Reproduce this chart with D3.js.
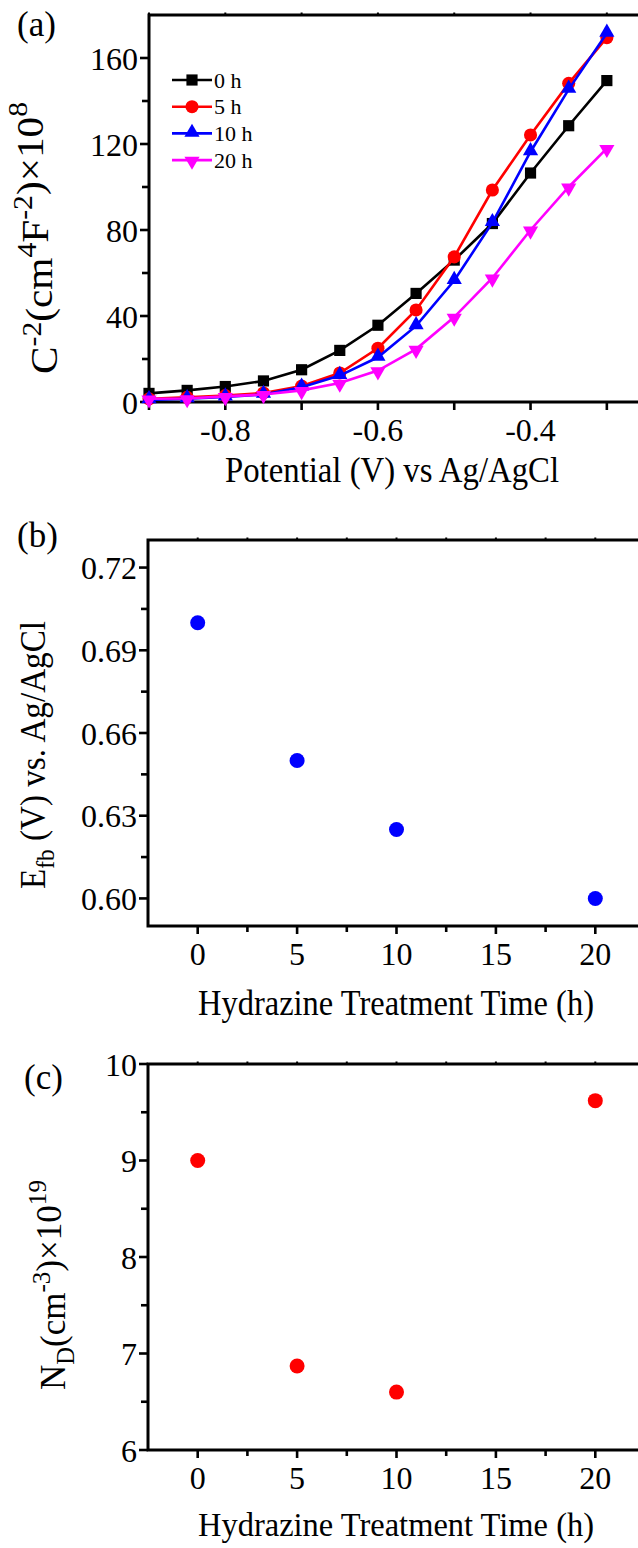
<!DOCTYPE html>
<html><head><meta charset="utf-8">
<script src="https://cdn.jsdelivr.net/npm/d3@7/dist/d3.min.js"></script>
<style>
body{margin:0;background:#fff}
text{font-family:"Liberation Serif","Times New Roman",Times,serif;fill:#000}
</style>
</head><body>
<svg id="c" width="638" height="1548" xmlns="http://www.w3.org/2000/svg"></svg>
<script>
// ---------- data ----------
const potentials = [-0.9,-0.85,-0.8,-0.75,-0.7,-0.65,-0.6,-0.55,-0.5,-0.45,-0.4,-0.35,-0.3];
const seriesNames = ["0 h","5 h","10 h","20 h"];
const c0h  = [4.0,5.4,7.2,9.8,15,24,35.7,50.5,66,83,106.5,128.5,149.5];
const c5h  = [1.5,2.2,3.0,4.2,7.4,13.5,25,42.8,67.5,98.6,124.2,148.2,169.5];
const c10h = [1.0,1.5,2.3,3.5,6.9,12.3,20.8,35.4,56.5,83.4,116.4,145.4,171.5];
const c20h = [1.5,1.6,2.6,3.5,5.4,8.8,14.6,24.6,39.5,57.7,80,100,118];
const seriesColors = ["#000000","#ff0000","#0000ff","#ff00ff"];

const times = [0,5,10,20];
const efb = [0.700,0.650,0.625,0.600];
const nd  = [9.00,6.87,6.60,9.62];

const ticksA_y = [0,40,80,120,160];
const ticksA_x = [-0.8,-0.6,-0.4];
const ticksB_y = [0.60,0.63,0.66,0.69,0.72];
const ticksC_y = [6,7,8,9,10];
const ticksT_x = [0,5,10,15,20];

// ---------- helpers ----------
const svg = d3.select("#c");
svg.append("rect").attr("width",638).attr("height",1548).attr("fill","#fff");

function frame(g, x, y, majorX, minorX, majorY, minorY, fmtX, fmtY, labelSkipX){
  const [x0,x1] = x.range(), [y0,y1] = y.range(); // y0 bottom, y1 top
  g.selectAll(null).data(majorX).join("line")
    .attr("x1",d=>x(d)).attr("x2",d=>x(d)).attr("y1",y0).attr("y2",y0+8)
    .attr("stroke","#000").attr("stroke-width",2.6);
  g.selectAll(null).data(minorX).join("line")
    .attr("x1",d=>x(d)).attr("x2",d=>x(d)).attr("y1",y0).attr("y2",y0+6)
    .attr("stroke","#000").attr("stroke-width",2.6);
  g.selectAll(null).data(majorX.concat(minorX)).join("line")
    .attr("x1",d=>x(d)).attr("x2",d=>x(d)).attr("y1",y1).attr("y2",y1-2.5)
    .attr("stroke","#000").attr("stroke-width",2);
  g.selectAll(null).data(majorY).join("line")
    .attr("y1",d=>y(d)).attr("y2",d=>y(d)).attr("x1",x0).attr("x2",x0-9)
    .attr("stroke","#000").attr("stroke-width",2.6);
  g.selectAll(null).data(minorY).join("line")
    .attr("y1",d=>y(d)).attr("y2",d=>y(d)).attr("x1",x0).attr("x2",x0-7)
    .attr("stroke","#000").attr("stroke-width",2.6);
  g.append("rect").attr("x",x0).attr("y",y1).attr("width",x1-x0).attr("height",y0-y1)
    .attr("fill","none").attr("stroke","#000").attr("stroke-width",3);
  g.selectAll(null).data(labelSkipX||majorX).join("text")
    .attr("x",d=>x(d)).attr("y",y0+39).attr("text-anchor","middle")
    .attr("font-size",32).text(fmtX);
  g.selectAll(null).data(majorY).join("text")
    .attr("x",x0-11).attr("y",d=>y(d)).attr("dy","0.36em").attr("text-anchor","end")
    .attr("font-size",32).text(fmtY);
}

function ytitle(g, cx, cy, size, parts, len){
  const t = g.append("text").attr("transform",`translate(${cx},${cy}) rotate(-90)`)
    .attr("text-anchor","middle").attr("font-size",size);
  parts.forEach(p=>{
    const s = t.append("tspan").text(p.t);
    if(p.sup){ s.attr("font-size",size*0.72).attr("dy",-size*0.42); }
    else if(p.sub){ s.attr("font-size",size*0.7).attr("dy",size*0.25); }
    if(p.back) s.attr("dy",p.back*size);
  });
  if(len) t.attr("textLength",len).attr("lengthAdjust","spacingAndGlyphs");
  return t;
}

// ---------- panel (a) ----------
{
  const g = svg.append("g");
  const x = d3.scaleLinear().domain([-0.9,-0.25]).range([149,645]);
  const y = d3.scaleLinear().domain([0,180]).range([402,15]);
  const allX = d3.range(-0.9,-0.24,0.1).map(v=>+v.toFixed(2));
  frame(g,x,y, allX, [], ticksA_y, [20,60,100,140], d=>d.toFixed(1), d=>d, ticksA_x);

  const series = [c0h,c5h,c10h,c20h];
  const symTypes = [d3.symbolSquare,d3.symbolCircle,d3.symbolTriangle,d3.symbolTriangle];
  const symSizes = [125,135,100,100];
  const rot = [0,0,0,180];
  const line = d3.line().x((d,i)=>x(potentials[i])).y(d=>y(d));
  series.forEach((s,k)=>{
    g.append("path").attr("d",line(s)).attr("fill","none")
      .attr("stroke",seriesColors[k]).attr("stroke-width",2.6);
    g.selectAll(null).data(s).join("path")
      .attr("d",d3.symbol(symTypes[k],symSizes[k]))
      .attr("transform",(d,i)=>`translate(${x(potentials[i])},${y(d)+(k===2?-1:k===3?1:0)}) rotate(${rot[k]})`)
      .attr("fill",seriesColors[k]);
  });
  const lg = g.append("g");
  seriesNames.forEach((n,k)=>{
    const ly = 80 + k*26.7;
    lg.append("line").attr("x1",172).attr("x2",212).attr("y1",ly).attr("y2",ly)
      .attr("stroke",seriesColors[k]).attr("stroke-width",2.6);
    lg.append("path").attr("d",d3.symbol(symTypes[k],symSizes[k]))
      .attr("transform",`translate(192,${ly+(k===2?-1:k===3?1:0)}) rotate(${rot[k]})`)
      .attr("fill",seriesColors[k]);
    lg.append("text").attr("x",214).attr("y",ly).attr("dy","0.35em")
      .attr("font-size",22).text(n);
  });
  g.append("text").attr("x",17).attr("y",36).attr("font-size",35).text("(a)");
  g.append("text").attr("x",(149+645)/2-5).attr("y",482).attr("text-anchor","middle")
    .attr("font-size",35).attr("textLength",334).attr("lengthAdjust","spacingAndGlyphs")
    .text("Potential (V) vs Ag/AgCl");
  ytitle(g, 57, 238, 38, [
    {t:"C"},{t:"-2",sup:true},{t:"(cm",back:0.3},{t:"4",sup:true},{t:"F",back:0.3},
    {t:"-2",sup:true},{t:")×10",back:0.3},{t:"8",sup:true}], 272);
}

// ---------- panel (b) ----------
{
  const g = svg.append("g");
  const x = d3.scaleLinear().domain([-2.5,22.5]).range([148,645]);
  const y = d3.scaleLinear().domain([0.59,0.73]).range([926,540]);
  frame(g,x,y, ticksT_x, [2.5,7.5,12.5,17.5,22.5], ticksB_y, [0.615,0.645,0.675,0.705],
        d=>d, d=>d.toFixed(2));
  g.selectAll(null).data(times).join("circle")
    .attr("cx",d=>x(d)).attr("cy",(d,i)=>y(efb[i])).attr("r",7.5).attr("fill","#0000ff");
  g.append("text").attr("x",17).attr("y",547).attr("font-size",35).text("(b)");
  g.append("text").attr("x",396).attr("y",1015).attr("text-anchor","middle")
    .attr("font-size",35).attr("textLength",396).attr("lengthAdjust","spacingAndGlyphs")
    .text("Hydrazine Treatment Time (h)");
  ytitle(g, 45, 755, 35, [
    {t:"E"},{t:"fb",sub:true},{t:" (V) vs. Ag/AgCl",back:-0.25}], 268);
}

// ---------- panel (c) ----------
{
  const g = svg.append("g");
  const x = d3.scaleLinear().domain([-2.5,22.5]).range([148,645]);
  const y = d3.scaleLinear().domain([6,10]).range([1450,1064]);
  frame(g,x,y, ticksT_x, [2.5,7.5,12.5,17.5,22.5], ticksC_y, [6.5,7.5,8.5,9.5],
        d=>d, d=>d);
  g.selectAll(null).data(times).join("circle")
    .attr("cx",d=>x(d)).attr("cy",(d,i)=>y(nd[i])).attr("r",7.5).attr("fill","#ff0000");
  g.append("text").attr("x",24).attr("y",1089).attr("font-size",35).text("(c)");
  g.append("text").attr("x",396).attr("y",1536).attr("text-anchor","middle")
    .attr("font-size",34).attr("textLength",396).attr("lengthAdjust","spacingAndGlyphs")
    .text("Hydrazine Treatment Time (h)");
  ytitle(g, 65, 1285, 35, [
    {t:"N"},{t:"D",sub:true},{t:"(cm",back:-0.25},{t:"-3",sup:true},{t:")×10",back:0.3},{t:"19",sup:true}], 210);
}
</script>
</body></html>
